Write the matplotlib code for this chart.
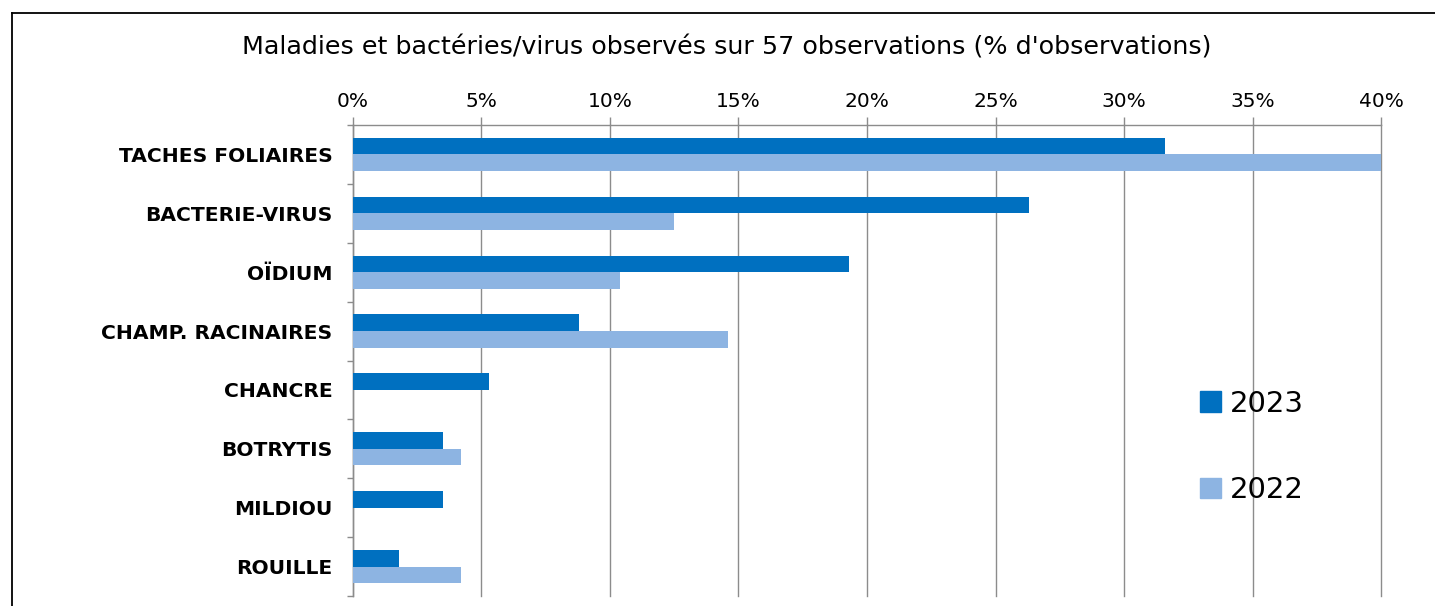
import matplotlib
matplotlib.use("Agg")
import matplotlib.pyplot as plt
from matplotlib.lines import Line2D
from matplotlib.patches import Patch
import numpy as np

# ── data (share of observations, %) ─────────────────────────────────────
categories = ["TACHES FOLIAIRES", "BACTERIE-VIRUS", "OÏDIUM",
              "CHAMP. RACINAIRES", "CHANCRE", "BOTRYTIS", "MILDIOU", "ROUILLE"]
pct_2023 = [31.6, 26.3, 19.3, 8.8, 5.3, 3.5, 3.5, 1.8]
pct_2022 = [40.0, 12.5, 10.4, 14.6, 0.0, 4.2, 0.0, 4.2]
x_ticks = [0, 5, 10, 15, 20, 25, 30, 35, 40]
title = "Maladies et bactéries/virus observés sur 57 observations (% d'observations)"

C_2023 = "#0070C0"
C_2022 = "#8DB4E2"
GRID = "#8C8C8C"

W, H = 1435, 606
fig = plt.figure(figsize=(W / 100, H / 100), dpi=100)
ax = fig.add_axes([352.7 / W, 1 - 596 / H, (1381.3 - 352.7) / W, (596 - 125) / H])

y = np.arange(len(categories))
bh = 0.283
ax.barh(y - bh / 2, pct_2023, height=bh, color=C_2023, label="2023", zorder=3)
ax.barh(y + bh / 2, pct_2022, height=bh, color=C_2022, label="2022", zorder=3,
        clip_on=False)

ax.set_xlim(0, 40)
ax.set_ylim(len(categories) - 0.5, -0.5)

# x axis on top, percentage labels
ax.xaxis.tick_top()
ax.set_xticks(x_ticks)
ax.set_xticklabels([f"{v}%" for v in x_ticks], fontsize=14.5)
ax.tick_params(axis="x", direction="out", length=6, width=1.0, color=GRID, pad=4)
ax.grid(axis="x", color=GRID, linewidth=1.0, zorder=0)
for gl in ax.get_xgridlines():
    gl.set_clip_on(False)

# y axis: labels at centres, tick marks at category boundaries
ax.set_yticks(y)
ax.set_yticklabels(categories, fontsize=14.6, fontweight="bold")
ax.tick_params(axis="y", which="major", length=0, pad=14.5)
ax.set_yticks(np.arange(len(categories) + 1) - 0.5, minor=True)
ax.tick_params(axis="y", which="minor", direction="out", length=4, width=1.0, color=GRID)

for side in ["right", "bottom"]:
    ax.spines[side].set_visible(False)
for side in ["left", "top"]:
    ax.spines[side].set_color(GRID)
    ax.spines[side].set_linewidth(1.0)

fig.text(727 / W, 1 - 47 / H, title, ha="center", va="center", fontsize=18.3)

handles = [Patch(color=C_2023, label="2023"), Patch(color=C_2022, label="2022")]
fig.legend(handles=handles, loc="center left",
           bbox_to_anchor=(1200 / W, 1 - 447 / H), bbox_transform=fig.transFigure,
           frameon=False, fontsize=21, handlelength=0.72, handleheight=0.7,
           handletextpad=0.3, labelspacing=2.0, borderpad=0, borderaxespad=0)

# chart frame (left and top edges visible in the crop)
fig.add_artist(Line2D([11.7 / W, 11.7 / W], [0, 1 - 13 / H],
                      transform=fig.transFigure, color="black", linewidth=1.3))
fig.add_artist(Line2D([11.7 / W, 1], [1 - 13 / H, 1 - 13 / H],
                      transform=fig.transFigure, color="black", linewidth=1.3))

fig.savefig("out.png", dpi=100)
plt.close(fig)
